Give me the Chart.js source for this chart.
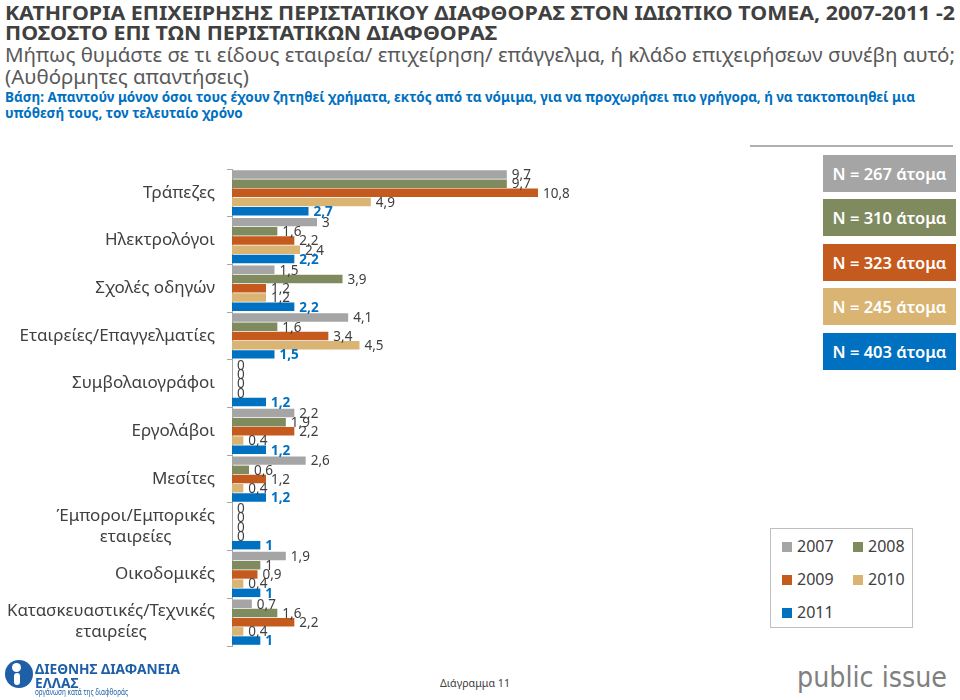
<!DOCTYPE html>
<html>
<head>
<meta charset="utf-8">
<script src="https://cdn.jsdelivr.net/npm/chart.js@4.4.1/dist/chart.umd.min.js"></script>
<style>
  html, body { margin: 0; padding: 0; background: #fff; }
  #page { position: relative; width: 960px; height: 700px; overflow: hidden; font-family: "Noto Sans", sans-serif; }
  .t { position: absolute; left: 5px; white-space: nowrap; transform-origin: 0 50%; line-height: 1; }
  .nbox { position: absolute; left: 823px; width: 133px; height: 37px; color: #fff; font-size: 16.5px; font-weight: 600;
          display: flex; align-items: center; justify-content: center; white-space: nowrap; }
  #legend { position: absolute; left: 770px; top: 528px; width: 143px; height: 100px; border: 1px solid #bfbfbf; box-sizing: border-box; }
  .li { position: absolute; font-size: 16px; color: #404040; line-height: 1; white-space: nowrap; }
  .li span.sq { display: inline-block; width: 10px; height: 10px; margin-right: 5px; vertical-align: 0px; }
  #chartwrap { position: absolute; left: 0; top: 150px; width: 760px; height: 510px; }
</style>
</head>
<body>
<div id="page">
  <div class="t" id="l1" style="top:3px;font-size:20px;font-weight:700;color:#404040;">ΚΑΤΗΓΟΡΙΑ ΕΠΙΧΕΙΡΗΣΗΣ ΠΕΡΙΣΤΑΤΙΚΟΥ ΔΙΑΦΘΟΡΑΣ ΣΤΟΝ ΙΔΙΩΤΙΚΟ ΤΟΜΕΑ, 2007-2011 -2</div>
  <div class="t" id="l2" style="top:23px;font-size:20px;font-weight:700;color:#404040;">ΠΟΣΟΣΤΟ ΕΠΙ ΤΩΝ ΠΕΡΙΣΤΑΤΙΚΩΝ ΔΙΑΦΘΟΡΑΣ</div>
  <div class="t" id="l3" style="top:45px;font-size:20px;color:#595959;">Μήπως θυμάστε σε τι είδους εταιρεία/ επιχείρηση/ επάγγελμα, ή κλάδο επιχειρήσεων συνέβη αυτό;</div>
  <div class="t" id="l4" style="top:67px;font-size:20px;color:#595959;">(Αυθόρμητες απαντήσεις)</div>
  <div class="t" id="l5" style="top:91px;font-size:13.5px;font-weight:700;color:#0070c0;">Βάση: Απαντούν μόνον όσοι τους έχουν ζητηθεί χρήματα, εκτός από τα νόμιμα, για να προχωρήσει πιο γρήγορα, ή να τακτοποιηθεί μια</div>
  <div class="t" id="l6" style="top:107px;font-size:13.5px;font-weight:700;color:#0070c0;">υπόθεσή τους, τον τελευταίο χρόνο</div>

  <div style="position:absolute;left:750px;top:145px;width:203px;height:2px;background:#b0b0b0;"></div>

  <div id="chartwrap"><canvas id="c" width="760" height="510"></canvas></div>

  <div id="nboxes"></div>
  <div id="legend"></div>

  <!-- footer -->
  <div style="position:absolute;left:5px;top:660px;width:28px;height:28px;border-radius:50%;background:#1f5fa8;"></div>
  <div style="position:absolute;left:12px;top:663px;width:9px;height:9px;border-radius:50%;background:#fff;"></div>
  <div style="position:absolute;left:14px;top:673px;width:6px;height:12px;border-radius:3px;background:#fff;"></div>
  <div class="t" id="f1" style="left:35px;top:661px;font-size:15px;font-weight:700;color:#1f5fa8;">ΔΙΕΘΝΗΣ ΔΙΑΦΑΝΕΙΑ</div>
  <div class="t" id="f2" style="left:35px;top:675px;font-size:15px;font-weight:700;color:#1f5fa8;">ΕΛΛΑΣ</div>
  <div class="t" id="f3" style="left:35px;top:688px;font-size:8px;color:#1f5fa8;">οργάνωση κατά της διαφθοράς</div>
  <div class="t" id="f4" style="left:440px;top:677px;font-size:11px;color:#404040;">Διάγραμμα 11</div>
  <div class="t" id="f5" style="left:797px;top:664px;font-size:28px;color:#808080;font-family:'DejaVu Sans',sans-serif;">public issue</div>
</div>

<script>
// ---------- data ----------
const categories = [
  'Τράπεζες', 'Ηλεκτρολόγοι', 'Σχολές οδηγών', 'Εταιρείες/Επαγγελματίες', 'Συμβολαιογράφοι',
  'Εργολάβοι', 'Μεσίτες', ['Έμποροι/Εμπορικές', 'εταιρείες'], 'Οικοδομικές',
  ['Κατασκευαστικές/Τεχνικές', 'εταιρείες']
];
const years = ['2007', '2008', '2009', '2010', '2011'];
const v2007 = [9.7, 3, 1.5, 4.1, 0, 2.2, 2.6, 0, 1.9, 0.7];
const v2008 = [9.7, 1.6, 3.9, 1.6, 0, 1.9, 0.6, 0, 1, 1.6];
const v2009 = [10.8, 2.2, 1.2, 3.4, 0, 2.2, 1.2, 0, 0.9, 2.2];
const v2010 = [4.9, 2.4, 1.2, 4.5, 0, 0.4, 0.4, 0, 0.4, 0.4];
const v2011 = [2.7, 2.2, 2.2, 1.5, 1.2, 1.2, 1.2, 1, 1, 1];
const sampleSizes = [267, 310, 323, 245, 403];

const colors = ['#a5a5a5', '#7f8a5e', '#c55a1e', '#d9b472', '#0070c0'];
const seriesValues = [v2007, v2008, v2009, v2010, v2011];

// ---------- text fitting ----------
function fit(id, target, applyTo) {
  const el = document.getElementById(id);
  const w = el.getBoundingClientRect().width;
  const s = target / w;
  el.style.transform = 'scaleX(' + s + ')';
  (applyTo || []).forEach(o => { document.getElementById(o).style.transform = 'scaleX(' + s + ')'; });
}
fit('l1', 950, ['l2']);
fit('l3', 950, ['l4']);
fit('l5', 910, ['l6']);
fit('f1', 145, ['f2']);
fit('f3', 93);
fit('f4', 70);
fit('f5', 150);

// ---------- N boxes ----------
const nTops = [155, 199, 244, 288, 333];
const nb = document.getElementById('nboxes');
sampleSizes.forEach((n, i) => {
  const d = document.createElement('div');
  d.className = 'nbox';
  d.style.top = nTops[i] + 'px';
  d.style.background = colors[i];
  d.textContent = 'N = ' + n + ' άτομα';
  nb.appendChild(d);
});

// ---------- legend ----------
const lg = document.getElementById('legend');
const legPos = [[11, 9], [82, 9], [11, 42], [82, 42], [11, 75]];
years.forEach((y, i) => {
  const d = document.createElement('div');
  d.className = 'li';
  d.style.left = legPos[i][0] + 'px';
  d.style.top = legPos[i][1] + 'px';
  d.innerHTML = '<span class="sq" style="background:' + colors[i] + '"></span>' + y;
  lg.appendChild(d);
});

// ---------- plugins ----------
const fmt = v => String(v).replace('.', ',');

const valueLabels = {
  id: 'valueLabels',
  afterDatasetsDraw(chart) {
    const ctx = chart.ctx;
    ctx.save();
    ctx.textBaseline = 'middle';
    ctx.textAlign = 'left';
    chart.data.datasets.forEach((ds, di) => {
      const meta = chart.getDatasetMeta(di);
      meta.data.forEach((bar, i) => {
        const last = di === 4;
        ctx.font = (last ? 'bold ' : '') + '13.5px "Noto Sans"';
        ctx.fillStyle = last ? '#0070c0' : '#404040';
        ctx.fillText(fmt(ds.data[i]), bar.x + 5, bar.y + 1);
      });
    });
    ctx.restore();
  }
};

const catLabels = {
  id: 'catLabels',
  afterDraw(chart) {
    const ctx = chart.ctx;
    const yScale = chart.scales.y;
    ctx.save();
    ctx.font = '17px "Noto Sans"';
    ctx.fillStyle = '#404040';
    ctx.textBaseline = 'middle';
    ctx.textAlign = 'center';
    const right = 215;
    const maxLine = 208;
    const lh = 21;
    categories.forEach((c, i) => {
      const lines = Array.isArray(c) ? c : [c];
      const cy = yScale.getPixelForValue(i);
      const widths = lines.map(l => ctx.measureText(l).width);
      const s = Math.min(1, maxLine / Math.max(...widths));
      const bw = Math.max(...widths) * s;
      const cx = right - bw / 2;
      lines.forEach((l, k) => {
        const ly = cy + (k - (lines.length - 1) / 2) * lh;
        ctx.save();
        ctx.translate(cx, ly);
        ctx.scale(s, 1);
        ctx.fillText(l, 0, 0);
        ctx.restore();
      });
    });
    ctx.restore();
  }
};

// ---------- chart ----------
new Chart(document.getElementById('c'), {
  type: 'bar',
  data: {
    labels: categories,
    datasets: years.map((y, i) => ({
      label: y,
      data: seriesValues[i],
      backgroundColor: colors[i],
      borderWidth: 0,
      categoryPercentage: 0.965,
      barPercentage: 0.92
    }))
  },
  options: {
    indexAxis: 'y',
    responsive: false,
    animation: false,
    events: [],
    layout: { padding: { left: 227, top: 19, right: 188, bottom: 14 } },
    plugins: { legend: { display: false }, tooltip: { enabled: false } },
    scales: {
      x: { display: false, min: 0, max: 12 },
      y: {
        display: true,
        ticks: { display: false },
        grid: { drawOnChartArea: false, drawTicks: true, tickLength: 5, color: '#a6a6a6', offset: true },
        border: { display: true, color: '#a6a6a6', width: 1 }
      }
    }
  },
  plugins: [valueLabels, catLabels]
});
</script>
</body>
</html>
